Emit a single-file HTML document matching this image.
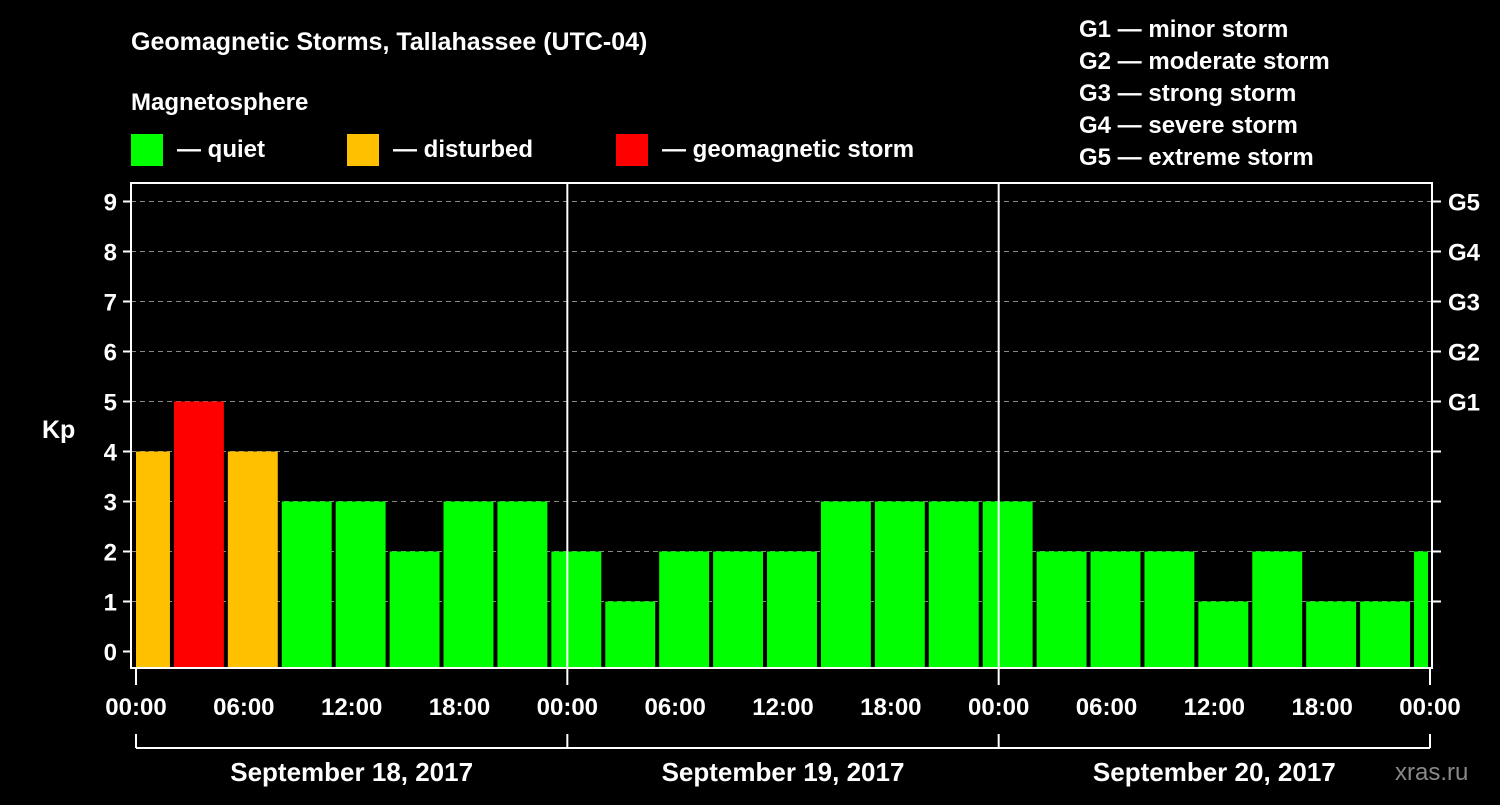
<!DOCTYPE html>
<html><head><meta charset="utf-8"><style>
body{margin:0;background:#000;width:1500px;height:800px;overflow:hidden}
svg text{font-family:"Liberation Sans",Arial,sans-serif;font-weight:bold;fill:#fff}
</style></head><body>
<svg id="c" width="1500" height="800" xmlns="http://www.w3.org/2000/svg">
<rect width="1500" height="800" fill="#000"/>
<text x="131" y="50" font-size="25">Geomagnetic Storms, Tallahassee (UTC-04)</text>
<text x="131" y="110" font-size="24">Magnetosphere</text>
<g><rect x="131" y="134" width="32" height="32" fill="#00ff00"/><text x="177" y="157" font-size="24">— quiet</text></g>
<g><rect x="347" y="134" width="32" height="32" fill="#ffc000"/><text x="393" y="157" font-size="24">— disturbed</text></g>
<g><rect x="616" y="134" width="32" height="32" fill="#ff0000"/><text x="662" y="157" font-size="24">— geomagnetic storm</text></g>
<g font-size="24">
<text x="1079" y="37">G1 — minor storm</text>
<text x="1079" y="69">G2 — moderate storm</text>
<text x="1079" y="101">G3 — strong storm</text>
<text x="1079" y="133">G4 — severe storm</text>
<text x="1079" y="165">G5 — extreme storm</text>
</g>
<text x="42" y="438" font-size="25">Kp</text>
<g id="grid"></g><g id="bars"></g><g id="axes"></g>
<text x="1395" y="780" font-size="24" fill="#888" style="fill:#888;font-weight:normal">xras.ru</text>
</svg>
<script>
const values=[4,5,4,3,3,2,3,3,2,1,2,2,2,3,3,3,3,2,2,2,1,2,1,1,2];
const yTicks=[0,1,2,3,4,5,6,7,8,9];
const gLabels=["G1","G2","G3","G4","G5"];
const timeLabels=["00:00","06:00","12:00","18:00","00:00","06:00","12:00","18:00","00:00","06:00","12:00","18:00","00:00"];
const dateLabels=["September 18, 2017","September 19, 2017","September 20, 2017"];
const NS="http://www.w3.org/2000/svg";
const L=131,R=1432,T=183,B=668,X0=136,X1=1430;
const xs=h=>X0+(X1-X0)*h/72;
const ys=v=>651.5-50*v;
function mk(tag,a,p){const e=document.createElementNS(NS,tag);for(const k in a)e.setAttribute(k,a[k]);p.appendChild(e);return e;}
const grid=document.getElementById('grid'),bars=document.getElementById('bars'),ax=document.getElementById('axes');
yTicks.forEach(v=>{
 if(v>0){const g=mk('line',{x1:L,x2:R,y1:ys(v),y2:ys(v),stroke:'#888','stroke-dasharray':'5,4','stroke-width':1},grid);
 
 }
 const t=mk('text',{x:117,y:ys(v)+9,'font-size':24,'text-anchor':'end'},ax);t.textContent=v;
 
 
 mk('line',{x1:L-8,x2:L,y1:ys(v),y2:ys(v),stroke:'#fff','stroke-width':2},ax);
 if(v>0)mk('line',{x1:R,x2:R+9,y1:ys(v),y2:ys(v),stroke:'#fff','stroke-width':2},ax);
 if(v>=5){const g=mk('text',{x:1448,y:ys(v)+9,'font-size':24},ax);g.textContent=gLabels[v-5];
 
 }
});
values.forEach((v,k)=>{
 let x0=xs(-1+3*k)+2,x1=xs(2+3*k)-2;
 x0=Math.max(x0,X0);x1=Math.min(x1,X1-2);
 const c=v>=5?'#ff0000':v>=4?'#ffc000':'#00ff00';
 const r=mk('rect',{x:x0,y:ys(v),width:x1-x0,height:B-ys(v),fill:c},bars);
 
 
});
[24,48].forEach(h=>mk('line',{x1:xs(h),x2:xs(h),y1:T,y2:B,stroke:'#fff','stroke-width':2},ax));
mk('rect',{x:L,y:T,width:R-L,height:B-T,fill:'none',stroke:'#fff','stroke-width':2},ax);
timeLabels.forEach((s,i)=>{
 const x=xs(i*6);
 if(i%4==0)mk('line',{x1:x,x2:x,y1:B,y2:685,stroke:'#fff','stroke-width':2},ax);
 const t=mk('text',{x:x,y:715,'font-size':24,'text-anchor':'middle'},ax);t.textContent=s;
 
 
});
mk('line',{x1:X0,x2:X1,y1:748,y2:748,stroke:'#fff','stroke-width':2},ax);
[0,24,48,72].forEach(h=>mk('line',{x1:xs(h),x2:xs(h),y1:734,y2:748,stroke:'#fff','stroke-width':2},ax));
dateLabels.forEach((s,i)=>{
 const t=mk('text',{x:xs(12+24*i),y:781,'font-size':26,'text-anchor':'middle'},ax);t.textContent=s;
 
 
});
</script>
</body></html>
